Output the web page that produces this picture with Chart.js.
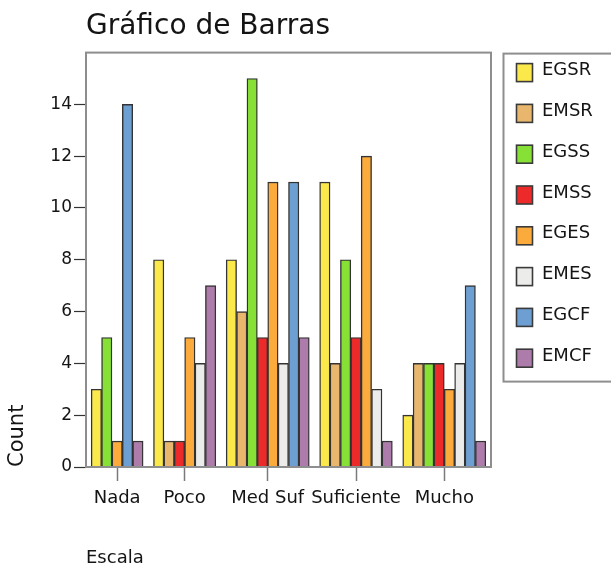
<!DOCTYPE html>
<html>
<head>
<meta charset="utf-8">
<script src="https://cdn.jsdelivr.net/npm/chart.js@4/dist/chart.umd.min.js"></script>
<style>
  html, body { margin: 0; padding: 0; background: #fff; }
  #wrap { width: 611px; height: 569px; }
</style>
</head>
<body>
<div id="wrap"><canvas id="barChart" width="611" height="569"></canvas></div>
<script>
// categories on the x axis and the series shown in the legend
const categories = ['Nada', 'Poco', 'Med Suf', 'Suficiente', 'Mucho'];
const seriesNames = ['EGSR', 'EMSR', 'EGSS', 'EMSS', 'EGES', 'EMES', 'EGCF', 'EMCF'];
const seriesColors = ['#fbe84b', '#e8b76d', '#86e035', '#ec2a2a', '#fbab3c', '#ececea', '#6e9fd3', '#ae7cab'];

// counts per category, one array per series (0 = no bar drawn)
const EGSR = [3, 8, 8, 11, 2];
const EMSR = [0, 1, 6, 4, 4];
const EGSS = [5, 0, 15, 8, 4];
const EMSS = [0, 1, 5, 5, 4];
const EGES = [1, 5, 11, 12, 3];
const EMES = [0, 4, 4, 3, 4];
const EGCF = [14, 0, 11, 0, 7];
const EMCF = [1, 7, 5, 1, 1];
const seriesValues = [EGSR, EMSR, EGSS, EMSS, EGES, EMES, EGCF, EMCF];

const yTicks = [0, 2, 4, 6, 8, 10, 12, 14];
const yMax = 16;

// bars with a zero count are left out, so every group is only as wide as its bars
const points = seriesNames.map(() => []);
const groupCenters = [];
let slot = 0;
categories.forEach((cat, c) => {
    const first = slot;
    seriesValues.forEach((vals, s) => {
        if (vals[c] > 0) {
            points[s].push({ x: slot, y: vals[c] });
            slot++;
        }
    });
    groupCenters.push((first + slot - 1) / 2);
    slot++; // gap between groups
});
const xMin = -1;
const xMax = slot - 1;

const textColor = '#141414';
const frameColor = '#8e8e8e';

Chart.defaults.font.family = "'DejaVu Sans', sans-serif";
Chart.defaults.color = textColor;

// grey box around the plot area
const framePlugin = {
    id: 'frame',
    afterDatasetsDraw(chart) {
        const { ctx, chartArea: a } = chart;
        ctx.save();
        ctx.strokeStyle = frameColor;
        ctx.lineWidth = 2;
        ctx.strokeRect(a.left, a.top, a.right - a.left, a.bottom - a.top);
        ctx.restore();
    }
};

// boxed legend to the right of the plot
const boxLegendPlugin = {
    id: 'boxLegend',
    afterDraw(chart) {
        const { ctx, chartArea: a } = chart;
        const left = a.right + 12.5;
        const top = a.top + 1;
        const rowGap = 40.8;
        ctx.save();
        ctx.strokeStyle = frameColor;
        ctx.lineWidth = 2;
        ctx.strokeRect(left, top, chart.width - left + 2, 328);
        ctx.font = "18px 'DejaVu Sans'";
        ctx.textBaseline = 'middle';
        ctx.textAlign = 'left';
        chart.data.datasets.forEach((ds, i) => {
            const y = top + 10 + i * rowGap;
            ctx.fillStyle = ds.backgroundColor;
            ctx.fillRect(left + 13, y, 16, 18);
            ctx.strokeStyle = '#3a3a3a';
            ctx.lineWidth = 1.6;
            ctx.strokeRect(left + 13, y, 16, 18);
            ctx.fillStyle = textColor;
            ctx.fillText(ds.label, left + 38.5, y + 7);
        });
        ctx.restore();
    }
};

const ctx = document.getElementById('barChart').getContext('2d');
const barChart = new Chart(ctx, {
    type: 'bar',
    data: {
        datasets: seriesNames.map((name, i) => ({
            label: name,
            data: points[i],
            backgroundColor: seriesColors[i],
            borderColor: '#333333',
            borderWidth: 1.4,
            grouped: false,
            categoryPercentage: 1,
            barPercentage: 1
        }))
    },
    options: {
        responsive: false,
        animation: false,
        layout: { padding: { top: 0, right: 120, bottom: 0, left: 0 } },
        plugins: {
            legend: { display: false },
            tooltip: { enabled: false },
            title: {
                display: true,
                text: 'Gráfico de Barras',
                align: 'start',
                fullSize: false,
                color: textColor,
                font: { size: 28, weight: 'normal' },
                padding: { top: 10, bottom: 9 }
            }
        },
        scales: {
            x: {
                type: 'linear',
                min: xMin,
                max: xMax,
                offset: false,
                afterBuildTicks(scale) {
                    scale.ticks = groupCenters.map(v => ({ value: v }));
                },
                afterFit(scale) { scale.height = 102; },
                ticks: {
                    autoSkip: false,
                    maxRotation: 0,
                    padding: 7,
                    color: textColor,
                    font: { size: 18 },
                    callback: (value, index) => categories[index]
                },
                grid: {
                    offset: false,
                    drawOnChartArea: false,
                    tickLength: 14,
                    tickColor: '#7a7a7a',
                    tickWidth: 1.5
                },
                border: { display: false },
                title: {
                    display: true,
                    text: 'Escala',
                    align: 'start',
                    color: textColor,
                    font: { size: 18 },
                    padding: { top: 0, bottom: 0 }
                }
            },
            y: {
                min: 0,
                max: yMax,
                afterBuildTicks(scale) {
                    scale.ticks = yTicks.map(v => ({ value: v }));
                },
                afterFit(scale) { scale.width = 86; },
                ticks: {
                    padding: 2,
                    color: textColor,
                    font: { size: 17 }
                },
                grid: {
                    drawOnChartArea: false,
                    tickLength: 12,
                    tickColor: '#333',
                    tickWidth: 1.2
                },
                border: { display: false },
                title: {
                    display: true,
                    text: 'Count',
                    align: 'start',
                    color: textColor,
                    font: { size: 21 },
                    padding: { top: 5, bottom: 0 }
                }
            }
        }
    },
    plugins: [framePlugin, boxLegendPlugin]
});
</script>
</body>
</html>
